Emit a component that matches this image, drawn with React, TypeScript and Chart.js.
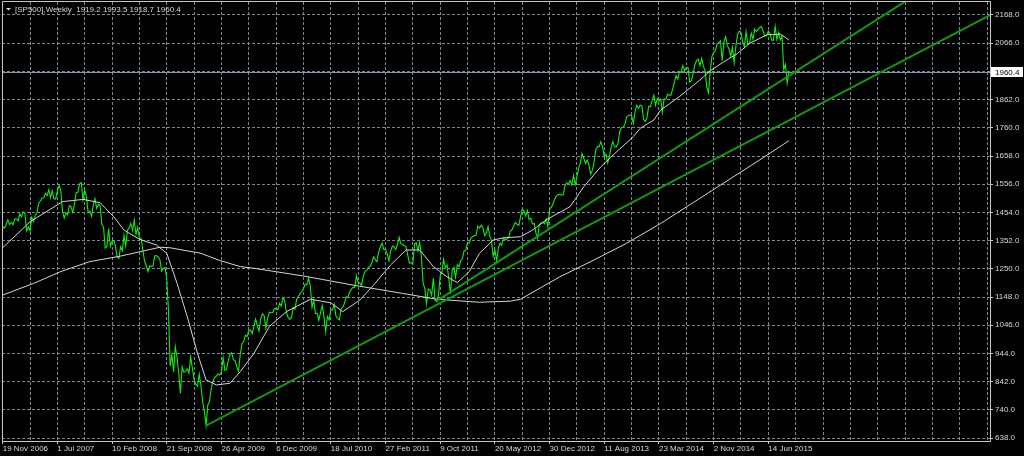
import { useEffect, useRef } from "react";
import { Chart, registerables } from "chart.js";

Chart.register(...registerables);

// Weekly closes, one value per weekly bar (bar 0 = week of 19 Nov 2006)
const closes2006 = [1401, 1397, 1409, 1427, 1410, 1418, 1409];
const closes2007 = [1430, 1431, 1423, 1449, 1438, 1456, 1451, 1387, 1402, 1387, 1437, 1421, 1443, 1453, 1485, 1495, 1505, 1506, 1523, 1515, 1536, 1507, 1533, 1503, 1503, 1531, 1553, 1534, 1459, 1434, 1453, 1445, 1479, 1474, 1454, 1484, 1525, 1527, 1557, 1561, 1500, 1535, 1509, 1453, 1458, 1440, 1481, 1504, 1468, 1484, 1478, 1411];
const closes2008 = [1401, 1325, 1331, 1396, 1331, 1349, 1353, 1331, 1294, 1288, 1330, 1316, 1371, 1333, 1390, 1398, 1414, 1389, 1426, 1375, 1400, 1361, 1360, 1318, 1278, 1262, 1240, 1261, 1258, 1261, 1297, 1298, 1292, 1283, 1242, 1251, 1255, 1213, 1099, 899, 940, 877, 968, 930, 873, 800, 896, 876, 879, 888, 873, 931];
const closes2009 = [890, 850, 832, 826, 869, 827, 770, 735, 683, 757, 769, 816, 843, 857, 862, 870, 866, 877, 929, 883, 887, 919, 940, 946, 921, 918, 896, 880, 940, 979, 987, 1010, 1005, 1026, 1029, 1016, 1042, 1068, 1044, 1025, 1071, 1087, 1080, 1036, 1069, 1093, 1091, 1091, 1106, 1106, 1102, 1126, 1115];
const closes2010 = [1145, 1136, 1092, 1074, 1067, 1075, 1109, 1104, 1139, 1150, 1160, 1167, 1178, 1194, 1192, 1217, 1187, 1111, 1136, 1088, 1089, 1064, 1092, 1117, 1076, 1022, 1078, 1065, 1102, 1102, 1122, 1079, 1071, 1065, 1105, 1110, 1126, 1149, 1146, 1166, 1176, 1183, 1183, 1225, 1199, 1199, 1189, 1224, 1240, 1244, 1256, 1258];
const closes2011 = [1272, 1293, 1283, 1276, 1311, 1329, 1343, 1320, 1321, 1304, 1279, 1314, 1332, 1329, 1320, 1338, 1364, 1340, 1338, 1333, 1331, 1300, 1271, 1272, 1268, 1340, 1344, 1316, 1346, 1292, 1199, 1179, 1124, 1177, 1174, 1154, 1216, 1136, 1131, 1155, 1225, 1238, 1285, 1253, 1264, 1216, 1159, 1244, 1255, 1219, 1265, 1258];
const closes2012 = [1278, 1289, 1315, 1316, 1345, 1343, 1362, 1366, 1370, 1371, 1404, 1397, 1408, 1398, 1370, 1379, 1403, 1369, 1353, 1295, 1318, 1278, 1325, 1343, 1335, 1362, 1355, 1357, 1363, 1386, 1391, 1406, 1418, 1411, 1407, 1438, 1466, 1460, 1441, 1461, 1428, 1433, 1412, 1414, 1380, 1360, 1409, 1416, 1418, 1413, 1430, 1402, 1466];
const closes2013 = [1472, 1486, 1503, 1513, 1518, 1520, 1516, 1518, 1551, 1561, 1556, 1569, 1553, 1588, 1555, 1582, 1614, 1633, 1667, 1650, 1631, 1643, 1627, 1593, 1606, 1632, 1680, 1692, 1692, 1710, 1691, 1656, 1664, 1633, 1655, 1688, 1710, 1692, 1690, 1703, 1745, 1760, 1762, 1771, 1798, 1804, 1806, 1805, 1775, 1818, 1841, 1831];
const closes2014 = [1842, 1839, 1790, 1783, 1797, 1838, 1836, 1859, 1878, 1841, 1866, 1857, 1865, 1816, 1864, 1863, 1881, 1878, 1878, 1900, 1924, 1949, 1936, 1963, 1961, 1985, 1967, 1978, 1978, 1925, 1931, 1955, 1988, 2003, 2008, 1985, 2011, 1982, 1968, 1906, 1887, 1965, 2018, 2032, 2039, 2064, 2068, 2075, 2003, 2071, 2089, 2058];
const closes2015 = [2045, 2019, 2051, 1995, 2055, 2097, 2110, 2105, 2071, 2053, 2108, 2061, 2067, 2102, 2081, 2117, 2108, 2116, 2123, 2126, 2107, 2092, 2094, 2110, 2102, 2077, 2077, 2127, 2079, 2104, 2078, 2092, 1971, 1989, 1921, 1960.4];

// Fast moving average (white): bar index / value
const fastMaBars = [0, 16, 35, 47, 57, 65, 71, 80, 90, 96, 102, 108, 114, 119, 125, 133, 139, 147, 156, 166, 180, 192, 199, 209, 217, 227, 236, 244, 252, 260, 266, 273, 279, 287, 293, 303, 310, 318, 332, 340, 350, 356, 369, 373, 381, 385, 396, 408, 414, 422, 430, 437, 447, 455, 460];
const fastMaValues = [1326, 1420, 1493, 1501, 1489, 1438, 1390, 1357, 1336, 1306, 1198, 1077, 944, 848, 830, 836, 878, 944, 1041, 1095, 1140, 1127, 1095, 1137, 1191, 1264, 1318, 1318, 1258, 1221, 1200, 1240, 1306, 1354, 1362, 1366, 1390, 1427, 1475, 1547, 1619, 1655, 1728, 1758, 1788, 1824, 1873, 1933, 1966, 1999, 2029, 2065, 2096, 2099, 2078];

// Slow moving average (white)
const slowMaBars = [0, 18, 34, 51, 69, 92, 98, 116, 127, 139, 147, 176, 205, 234, 254, 279, 297, 303, 326, 346, 365, 385, 443, 460];
const slowMaValues = [1155, 1197, 1240, 1276, 1296, 1328, 1326, 1306, 1280, 1258, 1252, 1224, 1191, 1161, 1140, 1129, 1133, 1140, 1221, 1282, 1342, 1414, 1644, 1713];

// Trend lines (anchor bar / value pairs)
const trendLowerBars = [119, 580];
const trendLowerValues = [683, 2175];
const trendUpperBars = [254, 580];
const trendUpperValues = [1134, 2422];

const dateLabels = ["19 Nov 2006", "1 Jul 2007", "10 Feb 2008", "21 Sep 2008", "26 Apr 2009", "6 Dec 2009", "18 Jul 2010", "27 Feb 2011", "9 Oct 2011", "20 May 2012", "30 Dec 2012", "11 Aug 2013", "23 Mar 2014", "2 Nov 2014", "14 Jun 2015"];
const priceTicks = [638, 740, 842, 944, 1046, 1148, 1250, 1352, 1454, 1556, 1658, 1760, 1862, 1964, 2066, 2168];
const headerText = "[SP500],Weekly  1919.2 1993.5 1918.7 1960.4";
const bidPrice = 1960.4;

const weeklyCloses = [...closes2006, ...closes2007, ...closes2008, ...closes2009, ...closes2010, ...closes2011, ...closes2012, ...closes2013, ...closes2014, ...closes2015];
const gridBars: number[] = [];
for (let b = 0; b <= 576; b += 16) gridBars.push(b);

const FONT = "Liberation Sans";
const GRID = "#778899";
const AXIS = "#c8c8c8";
const TEXT = "#d8d8d8";

const pairs = (xs: number[], ys: number[]) => xs.map((x, i) => ({ x, y: ys[i] }));

const mt4Plugin = {
  id: "mt4",
  beforeDraw(chart: any) {
    const { ctx, width, height } = chart;
    ctx.save();
    ctx.fillStyle = "#000";
    ctx.fillRect(0, 0, width, height);
    ctx.restore();
  },
  beforeDatasetsDraw(chart: any) {
    const { ctx, chartArea } = chart;
    const y = Math.round(chart.scales.y.getPixelForValue(bidPrice)) + 0.5;
    ctx.save();
    ctx.strokeStyle = "#8796a6";
    ctx.lineWidth = 1;
    ctx.beginPath();
    ctx.moveTo(chartArea.left, y);
    ctx.lineTo(chartArea.right, y);
    ctx.stroke();
    ctx.restore();
  },
  afterDraw(chart: any) {
    const { ctx, chartArea } = chart;
    const { left, top, right, bottom } = chartArea;
    ctx.save();
    // frame
    ctx.strokeStyle = AXIS;
    ctx.lineWidth = 1;
    ctx.beginPath();
    ctx.moveTo(left + 0.5, top - 0.5);
    ctx.lineTo(right + 0.5, top - 0.5);
    ctx.lineTo(right + 0.5, bottom + 0.5);
    ctx.lineTo(left + 0.5, bottom + 0.5);
    ctx.closePath();
    ctx.stroke();
    // bid label
    const y = Math.round(chart.scales.y.getPixelForValue(bidPrice));
    ctx.fillStyle = "#ffffff";
    ctx.fillRect(right + 1, y - 5, 32, 10);
    ctx.fillStyle = "#000";
    ctx.font = `8px "${FONT}"`;
    ctx.textBaseline = "middle";
    ctx.textAlign = "left";
    ctx.fillText(bidPrice.toFixed(1), right + 5, y + 0.5);
    // header
    ctx.fillStyle = TEXT;
    ctx.beginPath();
    ctx.moveTo(6, 8);
    ctx.lineTo(11, 8);
    ctx.lineTo(8.5, 10.5);
    ctx.closePath();
    ctx.fill();
    ctx.fillText(headerText, 15, 9.5);
    ctx.restore();
  },
};

export default function App() {
  const ref = useRef<HTMLCanvasElement>(null);
  useEffect(() => {
    document.body.style.margin = "0";
    document.body.style.background = "#000";
    const chart = new Chart(ref.current!, {
      type: "line",
      data: {
        datasets: [
          { data: pairs(trendLowerBars, trendLowerValues), borderColor: "#109a10", borderWidth: 2 },
          { data: pairs(trendUpperBars, trendUpperValues), borderColor: "#109a10", borderWidth: 2 },
          { data: pairs(fastMaBars, fastMaValues), borderColor: "#d4d4d4", borderWidth: 1 },
          { data: pairs(slowMaBars, slowMaValues), borderColor: "#d4d4d4", borderWidth: 1 },
          { data: weeklyCloses.map((v, i) => ({ x: i, y: v })), borderColor: "#10ee10", borderWidth: 1.1 },
        ],
      },
      options: {
        animation: false,
        responsive: false,
        devicePixelRatio: 1,
        events: [],
        layout: { padding: { left: 2, top: 2, right: 0, bottom: 0 } },
        elements: { point: { radius: 0 }, line: { tension: 0 } },
        plugins: { legend: { display: false }, tooltip: { enabled: false }, title: { display: false } },
        scales: {
          x: {
            type: "linear",
            min: -0.4,
            max: 577.7,
            afterBuildTicks: (s: any) => {
              s.ticks = gridBars.map((v) => ({ value: v }));
            },
            afterFit: (s: any) => {
              s.height = 15;
              s.paddingLeft = 0;
              s.paddingRight = 0;
            },
            grid: {
              color: GRID,
              lineWidth: 1,
              tickLength: 3,
              tickColor: (c: any) => (c.index % 2 === 0 && c.index <= 28 ? AXIS : "rgba(0,0,0,0)"),
            },
            border: { display: false, dash: [3, 2] },
            ticks: {
              autoSkip: false,
              maxRotation: 0,
              minRotation: 0,
              align: "start",
              padding: 0,
              color: TEXT,
              font: { family: FONT, size: 8 },
              callback: (_v: any, i: number) => (i % 2 === 0 ? dateLabels[i / 2] ?? "" : ""),
            },
          },
          y: {
            type: "linear",
            position: "right",
            min: 627.2,
            max: 2215,
            afterBuildTicks: (s: any) => {
              s.ticks = priceTicks.map((v) => ({ value: v }));
            },
            afterFit: (s: any) => {
              s.width = 34;
              s.paddingTop = 0;
              s.paddingBottom = 0;
            },
            grid: { color: GRID, lineWidth: 1, tickLength: 3, tickColor: AXIS },
            border: { display: false, dash: [3, 2] },
            ticks: {
              padding: 2,
              color: TEXT,
              font: { family: FONT, size: 8 },
              callback: (v: any) => (Number(v) === 1964 ? "" : Number(v).toFixed(1)),
            },
          },
        },
      },
      plugins: [mt4Plugin],
    } as any);
    return () => chart.destroy();
  }, []);
  return (
    <div style={{ width: 1024, height: 456, background: "#000" }}>
      <canvas ref={ref} width={1024} height={456} style={{ display: "block" }} />
    </div>
  );
}
